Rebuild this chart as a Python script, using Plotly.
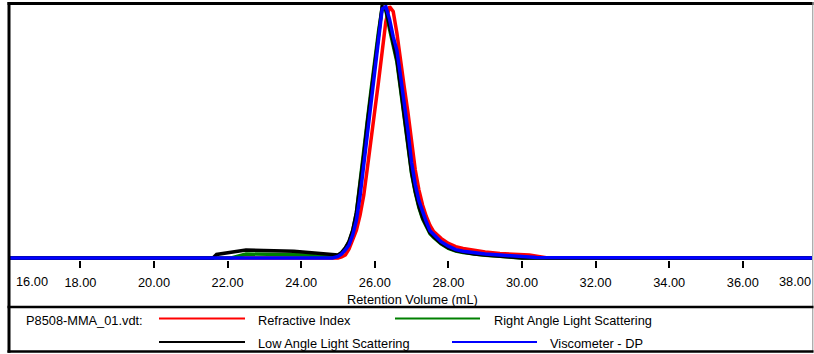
import plotly.graph_objects as go

# Canvas and plot-area geometry (pixels)
W, H = 814, 354
PL, PR, PT, PB = 10, 812, 5, 260

FONT = "Liberation Sans, Arial, sans-serif"
FS = 12.8

# Retention volume ticks
tick_vals = [16, 18, 20, 22, 24, 26, 28, 30, 32, 34, 36, 38]
tick_text = ["16.00", "18.00", "20.00", "22.00", "24.00", "26.00", "28.00",
             "30.00", "32.00", "34.00", "36.00", "38.00"]

# Refractive Index
ri_x = [15.9, 20.9, 22.0, 25.0, 25.1, 25.2, 25.3, 25.4, 25.5, 25.6, 25.7, 25.8,
        25.9, 26.0, 26.1, 26.2, 26.3, 26.4, 26.5, 26.6, 26.7, 26.8, 26.9, 27.0,
        27.1, 27.2, 27.3, 27.4, 27.5, 27.6, 27.8, 28.0, 28.2, 28.4, 28.7, 29.0,
        29.4, 29.8, 30.2, 30.7, 38.0]
ri_y = [0, -0.006, 0, 0, 0.004, 0.012, 0.036, 0.07, 0.11, 0.17, 0.25, 0.36,
        0.47, 0.57, 0.70, 0.82, 0.94, 1.0, 0.98, 0.895, 0.78, 0.68, 0.58, 0.47,
        0.35, 0.27, 0.21, 0.165, 0.13, 0.105, 0.078, 0.058, 0.045, 0.038, 0.03,
        0.024, 0.018, 0.014, 0.012, 0, 0]

# Right Angle Light Scattering
ra_x = [15.9, 22.1, 22.3, 22.5, 24.2, 24.5, 24.9, 25.0, 25.1, 25.2, 25.3, 25.4,
        25.5, 25.6, 25.7, 25.8, 25.9, 26.0, 26.1, 26.2, 26.3, 26.4, 26.5, 26.6,
        26.7, 26.8, 26.9, 27.0, 27.1, 27.2, 27.3, 27.4, 27.5, 27.6, 27.8, 28.0,
        28.2, 28.4, 28.7, 29.0, 29.4, 29.7, 30.0, 38.0]
ra_y = [0, 0, 0.008, 0.016, 0.012, 0.006, 0.004, 0.01, 0.02, 0.038, 0.064, 0.108,
        0.18, 0.295, 0.42, 0.55, 0.67, 0.79, 0.9, 0.995, 0.985, 0.91, 0.85, 0.78,
        0.67, 0.56, 0.44, 0.335, 0.26, 0.2, 0.155, 0.124, 0.097, 0.082, 0.056,
        0.038, 0.028, 0.022, 0.015, 0.011, 0.007, 0.004, 0, 0]

# Low Angle Light Scattering
la_x = [15.9, 21.6, 21.7, 22.5, 23.8, 24.3, 24.7, 24.95, 25.0, 25.1, 25.2, 25.3,
        25.4, 25.5, 25.6, 25.7, 25.8, 25.9, 26.0, 26.1, 26.2, 26.3, 26.4, 26.5,
        26.6, 26.7, 26.8, 26.9, 27.0, 27.1, 27.2, 27.3, 27.4, 27.5, 27.6, 27.8,
        28.0, 28.2, 28.4, 28.7, 29.0, 29.4, 29.7, 30.0, 38.0]
la_y = [0, 0, 0.014, 0.032, 0.027, 0.02, 0.014, 0.012, 0.012, 0.022, 0.04, 0.066,
        0.11, 0.18, 0.29, 0.41, 0.54, 0.66, 0.78, 0.9, 1.0, 0.99, 0.92, 0.86,
        0.79, 0.68, 0.57, 0.45, 0.34, 0.265, 0.205, 0.16, 0.128, 0.1, 0.085,
        0.058, 0.04, 0.03, 0.024, 0.016, 0.012, 0.008, 0.004, 0, 0]

# Viscometer - DP
vd_x = [15.9, 24.85, 25.0, 25.1, 25.2, 25.3, 25.4, 25.5, 25.6, 25.7, 25.8, 25.9,
        26.0, 26.1, 26.2, 26.3, 26.4, 26.5, 26.6, 26.7, 26.8, 26.9, 27.0, 27.1,
        27.2, 27.3, 27.4, 27.5, 27.6, 27.8, 28.0, 28.2, 28.4, 28.7, 29.0, 29.4,
        29.8, 30.1, 30.4, 38.0]
vd_y = [0, 0, 0.006, 0.016, 0.032, 0.052, 0.092, 0.15, 0.246, 0.37, 0.489, 0.614,
        0.741, 0.868, 0.99, 1.0, 0.95, 0.88, 0.826, 0.723, 0.62, 0.506, 0.38,
        0.292, 0.227, 0.18, 0.144, 0.108, 0.093, 0.065, 0.047, 0.033, 0.027,
        0.02, 0.016, 0.012, 0.008, 0.004, 0.002, 0]

file_label = "P8508-MMA_01.vdt:"
series_names = ["Refractive Index", "Right Angle Light Scattering",
                "Low Angle Light Scattering", "Viscometer - DP"]
series_colors = ["#ff0000", "#008000", "#000000", "#0000ff"]
series_data = [(ri_x, ri_y), (ra_x, ra_y), (la_x, la_y), (vd_x, vd_y)]

# Axis ranges: volume scale ~36.8 px per mL with 20.00 at x=154
PX_PER_ML = 36.8
x_lo = 20 + (PL - 154) / PX_PER_ML
x_hi = 20 + (PR - 154) / PX_PER_ML
# baseline (0) at y=258 px, peak (1) at y=6.5 px
span = (PB - PT) / (258 - 6.5)
y_hi = span * (258 - PT) / (PB - PT)
y_lo = y_hi - span


def fx(p):
    return (p - PL) / (PR - PL)


def fy(p):
    return (PB - p) / (PB - PT)


fig = go.Figure()
# draw order: RI, RALS, LALS, then viscometer on top
for (xs, ys), name, color in zip(series_data, series_names, series_colors):
    fig.add_trace(go.Scatter(
        x=xs, y=ys, mode="lines", name=name, showlegend=False,
        line=dict(color=color, width=3.5, shape="linear"), hoverinfo="skip"))

shapes = []


def hline(y, x0, x1, width, color="#000000"):
    shapes.append(dict(type="line", xref="paper", yref="paper",
                       x0=fx(x0), x1=fx(x1), y0=fy(y), y1=fy(y),
                       line=dict(color=color, width=width)))


def vline(x, y0, y1, width, color="#000000"):
    shapes.append(dict(type="line", xref="paper", yref="paper",
                       x0=fx(x), x1=fx(x), y0=fy(y0), y1=fy(y1),
                       line=dict(color=color, width=width)))


# outer frame and legend separator
vline(9, 2, 352.8, 3)
hline(3.5, 7.5, 813.5, 3)
vline(812.8, 2, 352.5, 1, "#8c8c8c")
hline(307, 7.5, 813.5, 2.5)
hline(351.5, 7.5, 813.5, 2.5)

annotations = []


def text(s, x, y, anchor="left"):
    annotations.append(dict(text=s, xref="paper", yref="paper", x=fx(x), y=fy(y),
                            xanchor=anchor, yanchor="middle", showarrow=False,
                            font=dict(family=FONT, size=FS, color="#000000"),
                            borderpad=0))


# edge tick labels that sit inside the frame
text(tick_text[0], 14.5, 281, "left")
text(tick_text[-1], 811.5, 281, "right")
# axis title
text("Retention Volume (mL)", 413, 299, "center")

# legend
row_y = [319, 342.5]
legend_layout = [
    (159, 245, 257, row_y[0]),
    (395, 480, 493, row_y[0]),
    (159, 245, 257, row_y[1]),
    (452, 537, 549, row_y[1]),
]
text(file_label, 24.5, row_y[0] + 1, "left")
for (lx0, lx1, tx, ry), name, color in zip(legend_layout, series_names, series_colors):
    hline(ry - 0.5, lx0, lx1, 2.2, color)
    text(name, tx, ry + 1, "left")

fig.update_layout(
    width=W, height=H,
    margin=dict(l=PL, r=W - PR, t=PT, b=H - PB, pad=0, autoexpand=False),
    paper_bgcolor="#ffffff", plot_bgcolor="#ffffff",
    shapes=shapes, annotations=annotations,
    font=dict(family=FONT, size=FS, color="#000000"),
    xaxis=dict(range=[x_lo, x_hi], tickvals=tick_vals, ticktext=tick_text,
               ticks="outside", ticklen=7, tickwidth=2, tickcolor="#000000",
               ticklabelstandoff=4,
               showline=False, showgrid=False, zeroline=False,
               tickfont=dict(family=FONT, size=FS, color="#000000")),
    yaxis=dict(range=[y_lo, y_hi], visible=False, showgrid=False, zeroline=False),
)

fig.write_html("out.html")
